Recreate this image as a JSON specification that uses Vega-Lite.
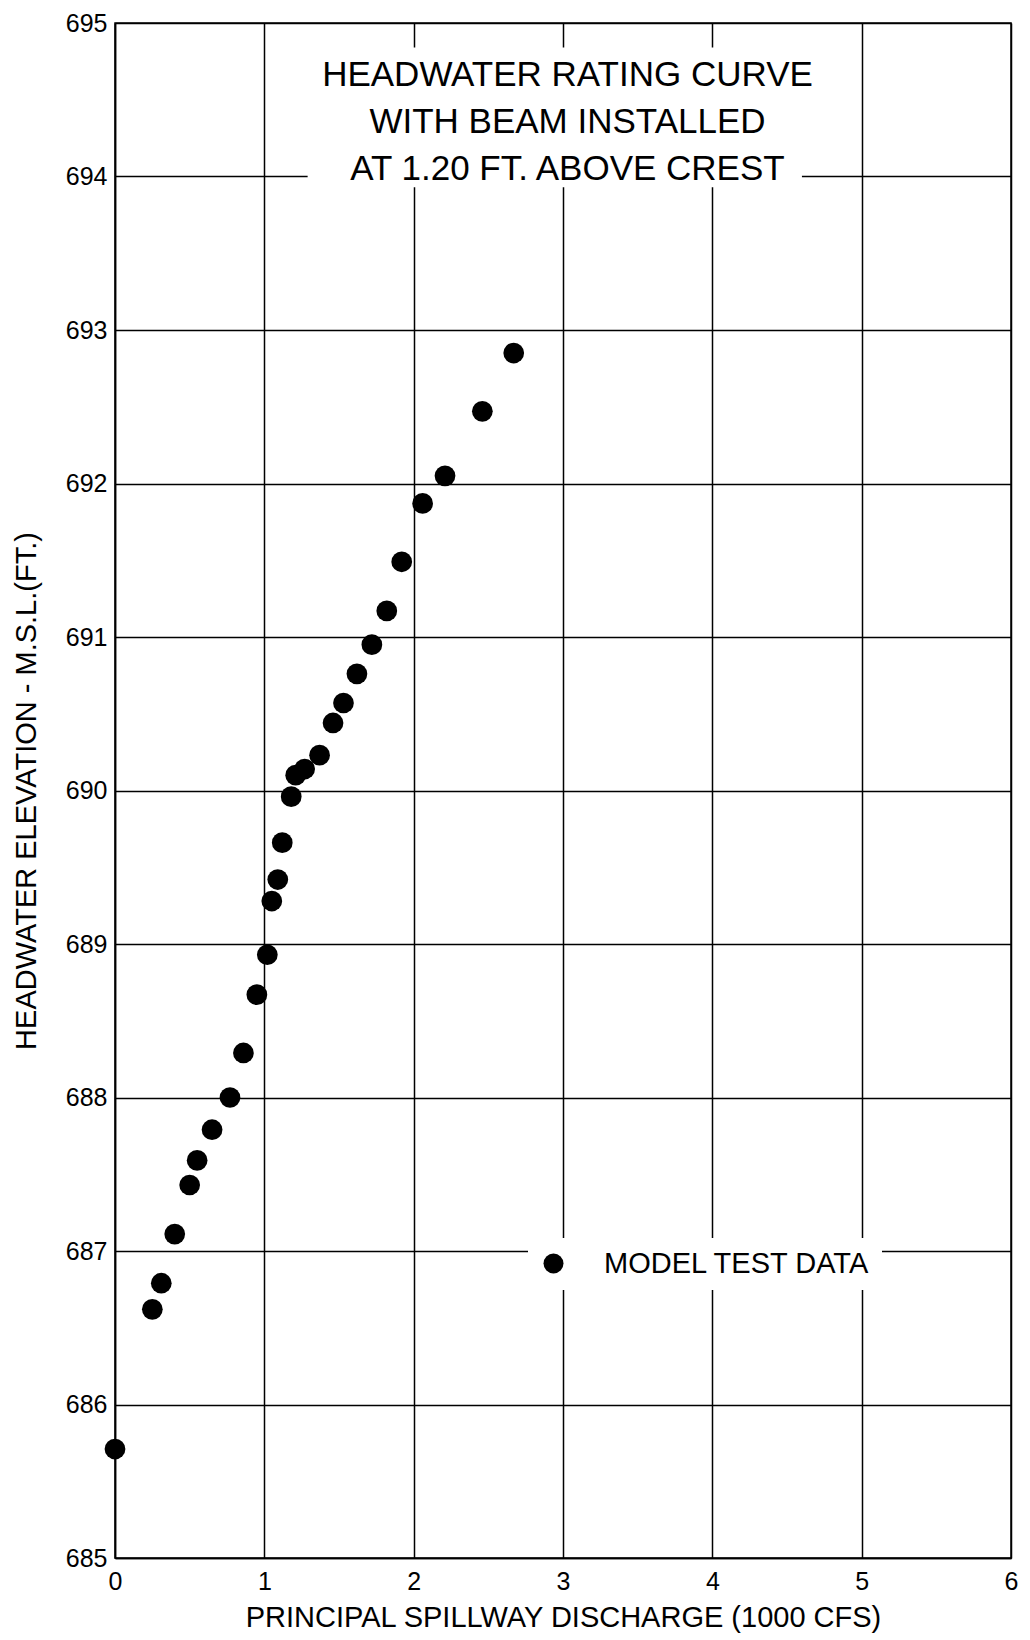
{
  "$schema": "https://vega.github.io/schema/vega-lite/v6.json",
  "width": 896,
  "height": 1535,
  "autosize": {"type": "none"},
  "padding": {"left": 115, "top": 23, "right": 19, "bottom": 82},
  "background": "white",
  "config": {
    "font": "Liberation Sans",
    "view": {"stroke": "black", "strokeWidth": 1.5},
    "axis": {
      "grid": true,
      "gridColor": "black",
      "gridWidth": 1.5,
      "gridOpacity": 1,
      "domainColor": "black",
      "domainWidth": 1.5,
      "ticks": false,
      "labelColor": "black",
      "titleColor": "black",
      "labelFontSize": 25,
      "titleFontSize": 29,
      "titleFontWeight": "normal",
      "labelFont": "Liberation Sans",
      "titleFont": "Liberation Sans"
    }
  },
  "layer": [
    {
      "data": {
        "values": [
          {"discharge": 0.00, "elevation": 685.71},
          {"discharge": 0.25, "elevation": 686.62},
          {"discharge": 0.31, "elevation": 686.79},
          {"discharge": 0.40, "elevation": 687.11},
          {"discharge": 0.50, "elevation": 687.43},
          {"discharge": 0.55, "elevation": 687.59},
          {"discharge": 0.65, "elevation": 687.79},
          {"discharge": 0.77, "elevation": 688.00},
          {"discharge": 0.86, "elevation": 688.29},
          {"discharge": 0.95, "elevation": 688.67},
          {"discharge": 1.02, "elevation": 688.93},
          {"discharge": 1.05, "elevation": 689.28},
          {"discharge": 1.09, "elevation": 689.42},
          {"discharge": 1.12, "elevation": 689.66},
          {"discharge": 1.18, "elevation": 689.96},
          {"discharge": 1.21, "elevation": 690.10},
          {"discharge": 1.27, "elevation": 690.14},
          {"discharge": 1.37, "elevation": 690.23},
          {"discharge": 1.46, "elevation": 690.44},
          {"discharge": 1.53, "elevation": 690.57},
          {"discharge": 1.62, "elevation": 690.76},
          {"discharge": 1.72, "elevation": 690.95},
          {"discharge": 1.82, "elevation": 691.17},
          {"discharge": 1.92, "elevation": 691.49},
          {"discharge": 2.06, "elevation": 691.87},
          {"discharge": 2.21, "elevation": 692.05},
          {"discharge": 2.46, "elevation": 692.47},
          {"discharge": 2.67, "elevation": 692.85}
        ]
      },
      "mark": {"type": "point", "filled": true, "shape": "circle", "size": 430, "opacity": 1},
      "encoding": {
        "x": {
          "field": "discharge",
          "type": "quantitative",
          "scale": {"domain": [0, 6], "nice": false, "zero": false},
          "axis": {
            "title": "PRINCIPAL SPILLWAY DISCHARGE (1000 CFS)",
            "values": [0, 1, 2, 3, 4, 5, 6],
            "format": "d",
            "labelFlush": false,
            "labelFontSize": 25,
            "labelPadding": 11,
            "titlePadding": 9,
            "titleFontSize": 29
          }
        },
        "y": {
          "field": "elevation",
          "type": "quantitative",
          "scale": {"domain": [685, 695], "nice": false, "zero": false},
          "axis": {
            "title": "HEADWATER ELEVATION - M.S.L.(FT.)",
            "values": [685, 686, 687, 688, 689, 690, 691, 692, 693, 694, 695],
            "format": "d",
            "labelFlush": false,
            "labelFontSize": 25,
            "labelPadding": 8,
            "titlePadding": 24,
            "titleFontSize": 29
          }
        },
        "color": {
          "datum": "MODEL TEST DATA",
          "scale": {"range": ["black"]},
          "legend": {
            "title": null,
            "orient": "none",
            "legendX": 413,
            "legendY": 1215,
            "fillColor": "white",
            "padding": 11,
            "symbolType": "circle",
            "symbolSize": 400,
            "symbolStrokeWidth": 0,
            "labelFontSize": 29,
            "labelLimit": 500,
            "labelColor": "black",
            "labelFont": "Liberation Sans",
            "labelOffset": 36
          }
        }
      }
    },
    {
      "data": {"values": [{}]},
      "mark": {"type": "rect", "fill": "white", "stroke": null},
      "encoding": {
        "x": {"datum": 1.29, "type": "quantitative"},
        "x2": {"datum": 4.6},
        "y": {"datum": 694.84, "type": "quantitative"},
        "y2": {"datum": 693.93}
      }
    },
    {
      "data": {"values": [{}]},
      "mark": {
        "type": "text",
        "text": ["HEADWATER RATING CURVE", "WITH BEAM INSTALLED", "AT 1.20 FT. ABOVE CREST"],
        "fontSize": 35,
        "lineHeight": 47,
        "align": "center",
        "baseline": "middle",
        "color": "black",
        "font": "Liberation Sans"
      },
      "encoding": {
        "x": {"datum": 3.03, "type": "quantitative"},
        "y": {"datum": 694.66, "type": "quantitative"}
      }
    }
  ]
}
